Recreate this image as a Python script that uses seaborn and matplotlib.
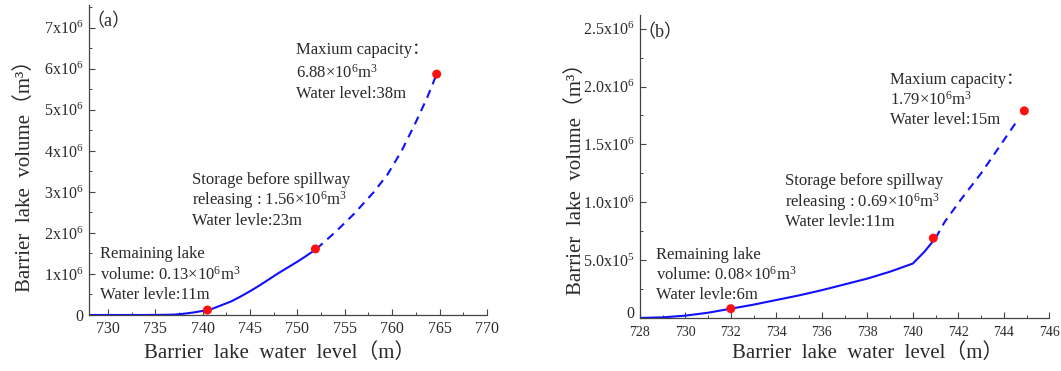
import matplotlib
matplotlib.use("Agg")
import matplotlib.pyplot as plt
import matplotlib.transforms as mtransforms
import seaborn as sns
from matplotlib.ticker import MultipleLocator

# ---------------- data ----------------
# Panel (a)
a_level_solid = [728, 734, 736, 737, 738, 739, 740, 741, 742, 743, 744, 745, 746, 747, 748, 749, 750, 751, 752]
a_vol_solid = [0, 0, 0.004e6, 0.01e6, 0.03e6, 0.06e6, 0.10e6, 0.15e6, 0.24e6, 0.33e6, 0.45e6,
               0.58e6, 0.72e6, 0.87e6, 1.02e6, 1.16e6, 1.30e6, 1.45e6, 1.61e6]
a_level_dash = [752, 754, 756, 758, 759.5, 761, 762.5, 763.7, 764.7]
a_vol_dash = [1.61e6, 2.02e6, 2.47e6, 2.98e6, 3.42e6, 4.00e6, 4.70e6, 5.30e6, 5.87e6]
a_pt_level = [740.5, 751.9, 764.7]
a_pt_vol = [0.12e6, 1.61e6, 5.87e6]
a_yticks = [0, 1e6, 2e6, 3e6, 4e6, 5e6, 6e6, 7e6]
a_ytick_labels = ["0", "1x10$^6$", "2x10$^6$", "3x10$^6$", "4x10$^6$", "5x10$^6$", "6x10$^6$", "7x10$^6$"]
a_xticks = [730, 735, 740, 745, 750, 755, 760, 765, 770]

# Panel (b)
b_level_solid = [728, 729, 730, 731, 732, 733, 734, 735, 736, 737, 738, 739, 740, 740.5, 741]
b_vol_solid = [0, 0.005e6, 0.02e6, 0.045e6, 0.08e6, 0.115e6, 0.155e6, 0.195e6, 0.24e6, 0.29e6,
               0.34e6, 0.40e6, 0.47e6, 0.57e6, 0.69e6]
b_level_dash = [741, 741.4, 742.1, 743.0, 743.7, 744.5]
b_vol_dash = [0.69e6, 0.83e6, 1.02e6, 1.25e6, 1.45e6, 1.68e6]
b_pt_level = [732, 740.9, 744.9]
b_pt_vol = [0.08e6, 0.69e6, 1.79e6]
b_yticks = [0, 0.5e6, 1.0e6, 1.5e6, 2.0e6, 2.5e6]
b_ytick_labels = ["0", "5.0x10$^5$", "1.0x10$^6$", "1.5x10$^6$", "2.0x10$^6$", "2.5x10$^6$"]
b_xticks = [728, 730, 732, 734, 736, 738, 740, 742, 744, 746]

# ---------------- style ----------------
sns.set_theme(style="ticks")
SERIF = ["Liberation Serif", "Noto Sans CJK SC", "DejaVu Serif"]
plt.rcParams["font.family"] = SERIF
plt.rcParams["mathtext.fontset"] = "custom"
plt.rcParams["mathtext.rm"] = "Liberation Serif"
plt.rcParams["mathtext.it"] = "Liberation Serif:italic"
plt.rcParams["mathtext.bf"] = "Liberation Serif:bold"

TXT = "#2a2a2a"
BLUE = "#1010ff"
RED = "#ff1010"

fig = plt.figure(figsize=(10.61, 3.71), dpi=100)
axA = fig.add_axes([0.0839, 0.151, 0.375, 0.835])
axB = fig.add_axes([0.603, 0.143, 0.386, 0.817])


def draw(ax, ls, vs, ld, vd, pl, pv):
    sns.lineplot(x=ls, y=vs, ax=ax, color=BLUE, lw=1.5, sort=False, estimator=None)
    sns.lineplot(x=ld, y=vd, ax=ax, color=BLUE, lw=1.5, sort=False, estimator=None,
                 linestyle=(0, (4, 3)))
    sns.scatterplot(x=pl, y=pv, ax=ax, color=RED, s=42, edgecolor="none", zorder=5)


def style(ax, xlim, ylim, xticks, xminor, yticks, ylabels, yminor, xl_x, xl_y, yl_x, yl_y,
          xsize, xpad):
    ax.set_xlim(*xlim)
    ax.set_ylim(*ylim)
    ax.set_xticks(xticks)
    ax.xaxis.set_minor_locator(MultipleLocator(xminor))
    ax.set_yticks(yticks)
    ax.set_yticklabels(ylabels)
    ax.yaxis.set_minor_locator(MultipleLocator(yminor))
    for s in ["top", "right"]:
        ax.spines[s].set_visible(False)
    for s in ["left", "bottom"]:
        ax.spines[s].set_color("#444444")
        ax.spines[s].set_linewidth(0.9)
    ax.tick_params(which="major", direction="in", length=4, width=0.8, color="#444444",
                   labelsize=11.5, labelcolor=TXT, pad=4)
    ax.tick_params(axis="x", which="major", labelsize=xsize, pad=xpad)
    ax.tick_params(which="minor", direction="in", length=2, width=0.7, color="#444444")
    ax.set_xlabel("Barrier  lake  water  level（m）", fontsize=15, color=TXT)
    ax.set_ylabel("Barrier  lake  volume（m³）", fontsize=15, color=TXT)
    ax.xaxis.set_label_coords(xl_x, xl_y)
    ax.yaxis.set_label_coords(yl_x, yl_y)


draw(axA, a_level_solid, a_vol_solid, a_level_dash, a_vol_dash, a_pt_level, a_pt_vol)
draw(axB, b_level_solid, b_vol_solid, b_level_dash, b_vol_dash, b_pt_level, b_pt_vol)

style(axA, (728, 770), (0, 7.55e6), a_xticks, 2.5, a_yticks, a_ytick_labels, 0.5e6,
      0.48, -0.091, -0.136, 0.464, 11.5, 4)
style(axB, (728, 746), (0, 2.62e6), b_xticks, 1, b_yticks, b_ytick_labels, 0.25e6,
      0.556, -0.083, -0.132, 0.475, 10, 6)

# lift the "0" label of panel (b) slightly so it clears the "728" label below it
zero_lbl = axB.get_yticklabels()[0]
zero_lbl.set_transform(zero_lbl.get_transform() +
                       mtransforms.ScaledTranslation(0, 4 / 72, fig.dpi_scale_trans))


def lines(ax, x, ys, texts, fs=12):
    for y, t in zip(ys, texts):
        ax.text(x, y, t, fontsize=fs, color=TXT, ha="left", va="center")


# Panel (a) annotations
axA.text(727.7, 7.14e6, "（a）", fontsize=13, color=TXT, ha="left", va="center")
lines(axA, 749.8, [6.45e6, 5.91e6, 5.38e6],
      ["Maxium capacity：", "6.88×10$^6$m$^3$", "Water level:38m"])
lines(axA, 738.9, [3.30e6, 2.79e6, 2.30e6],
      ["Storage before spillway", "releasing : 1.56×10$^6$m$^3$", "Water levle:23m"])
lines(axA, 729.2, [1.49e6, 0.98e6, 0.49e6],
      ["Remaining lake", "volume: 0.13×10$^6$m$^3$", "Water levle:11m"])

# Panel (b) annotations
axB.text(727.9, 2.47e6, "（b）", fontsize=13, color=TXT, ha="left", va="center")
lines(axB, 739.0, [2.06e6, 1.89e6, 1.71e6],
      ["Maxium capacity：", "1.79×10$^6$m$^3$", "Water level:15m"])
lines(axB, 734.4, [1.18e6, 1.00e6, 0.83e6],
      ["Storage before spillway", "releasing : 0.69×10$^6$m$^3$", "Water levle:11m"])
lines(axB, 728.7, [0.545e6, 0.372e6, 0.199e6],
      ["Remaining lake", "volume: 0.08×10$^6$m$^3$", "Water levle:6m"])

fig.savefig("out.png", dpi=100, facecolor="white")
